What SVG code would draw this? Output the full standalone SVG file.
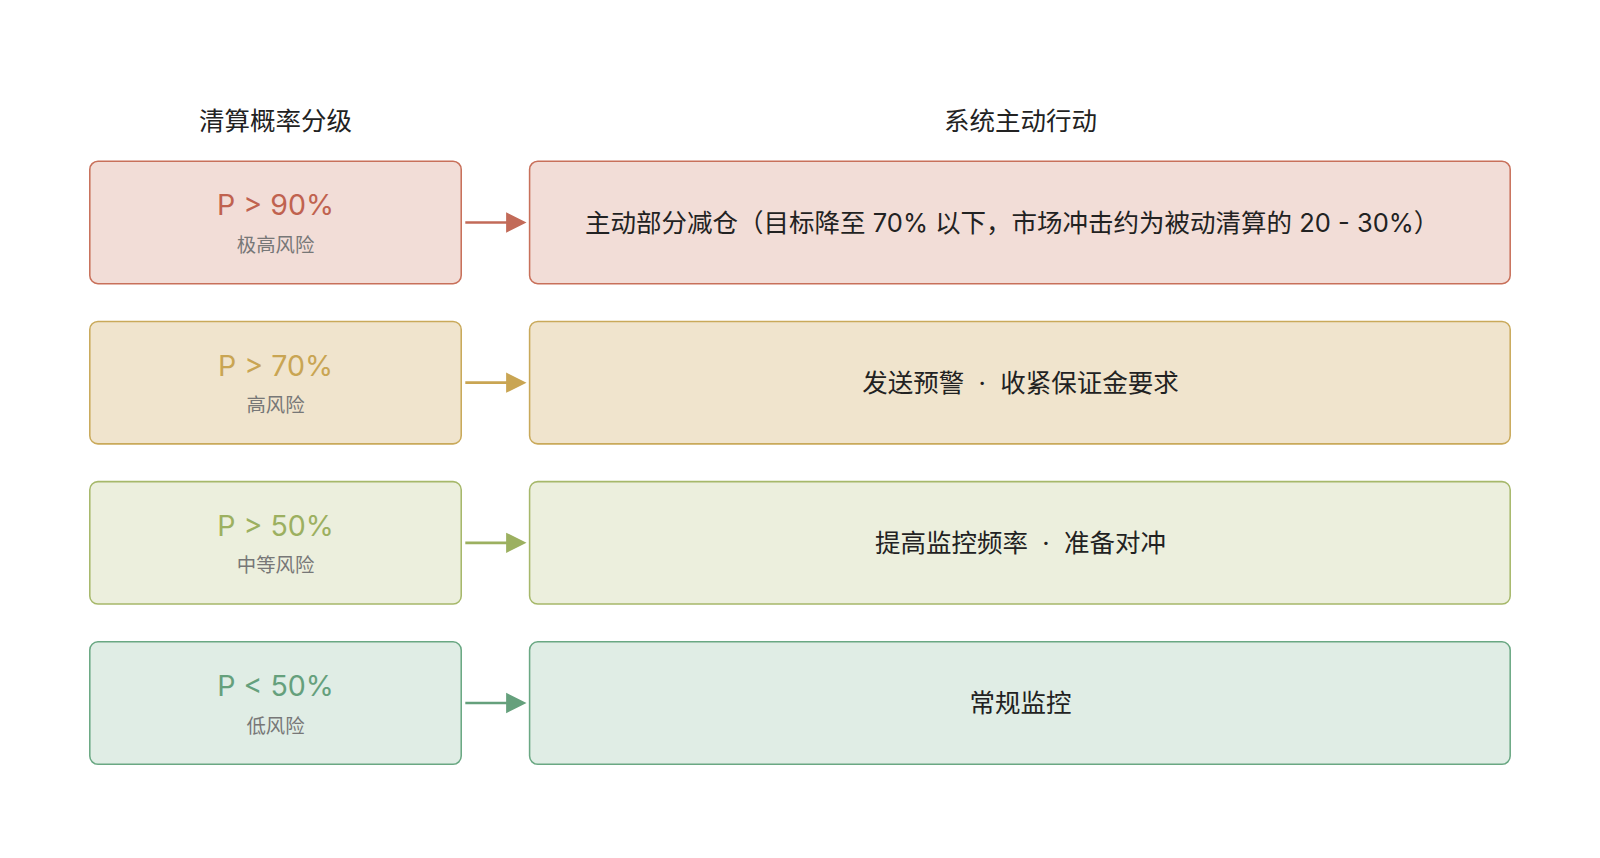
<svg xmlns="http://www.w3.org/2000/svg" width="1600" height="858" viewBox="0 0 1600 858">
<style>
text{font-family:"Inter","Noto Sans CJK SC",sans-serif;text-anchor:middle}
.h{font-size:25px;fill:#222}
.p{font-size:28px}
.s{font-size:19px;fill:#777}
.a{font-size:25px;fill:#222}
</style>
<rect width="1600" height="858" fill="#fff"/>
<g transform="scale(1.0204)">
<text class="h" x="270" y="127">清算概率分级</text>
<text class="h" x="1000" y="127">系统主动行动</text>
<g id="n1"><rect x="88" y="158" width="364" height="120" rx="8" fill="#f2ddd7" stroke="#c8705a" stroke-width="1.5"/><text class="p" x="270" y="211" fill="#c0624f">P &gt; 90%</text><text class="s" x="270" y="247">极高风险</text></g>
<g id="a1"><rect x="519" y="158" width="961" height="120" rx="8" fill="#f2ddd7" stroke="#c8705a" stroke-width="1.5"/><text class="a" x="992" y="227">主动部分减仓（目标降至 70% 以下，市场冲击约为被动清算的 20 - 30%）</text></g>
<g id="n2"><rect x="88" y="315" width="364" height="120" rx="8" fill="#f0e4cd" stroke="#c9a95a" stroke-width="1.5"/><text class="p" x="270" y="368" fill="#c9a553">P &gt; 70%</text><text class="s" x="270" y="404">高风险</text></g>
<g id="a2"><rect x="519" y="315" width="961" height="120" rx="8" fill="#f0e4cd" stroke="#c9a95a" stroke-width="1.5"/><text class="a" x="1000" y="384">发送预警 &#160;·&#160; 收紧保证金要求</text></g>
<g id="n3"><rect x="88" y="472" width="364" height="120" rx="8" fill="#ecefdd" stroke="#a6b86a" stroke-width="1.5"/><text class="p" x="270" y="525" fill="#9cb060">P &gt; 50%</text><text class="s" x="270" y="561">中等风险</text></g>
<g id="a3"><rect x="519" y="472" width="961" height="120" rx="8" fill="#ecefdd" stroke="#a6b86a" stroke-width="1.5"/><text class="a" x="1000" y="541">提高监控频率 &#160;·&#160; 准备对冲</text></g>
<g id="n4"><rect x="88" y="629" width="364" height="120" rx="8" fill="#e0ede5" stroke="#6aa883" stroke-width="1.5"/><text class="p" x="270" y="682" fill="#65a07c">P &lt; 50%</text><text class="s" x="270" y="718">低风险</text></g>
<g id="a4"><rect x="519" y="629" width="961" height="120" rx="8" fill="#e0ede5" stroke="#6aa883" stroke-width="1.5"/><text class="a" x="1000" y="698">常规监控</text></g>
<g id="connectors" stroke-width="2.5">
<line x1="456" y1="218" x2="498" y2="218" stroke="#c26a58"/><path d="M496,208L516,218L496,228z" fill="#c26a58"/>
<line x1="456" y1="375" x2="498" y2="375" stroke="#c9a553"/><path d="M496,365L516,375L496,385z" fill="#c9a553"/>
<line x1="456" y1="532" x2="498" y2="532" stroke="#9cb060"/><path d="M496,522L516,532L496,542z" fill="#9cb060"/>
<line x1="456" y1="689" x2="498" y2="689" stroke="#65a07c"/><path d="M496,679L516,689L496,699z" fill="#65a07c"/>
</g>
</g>
</svg>
